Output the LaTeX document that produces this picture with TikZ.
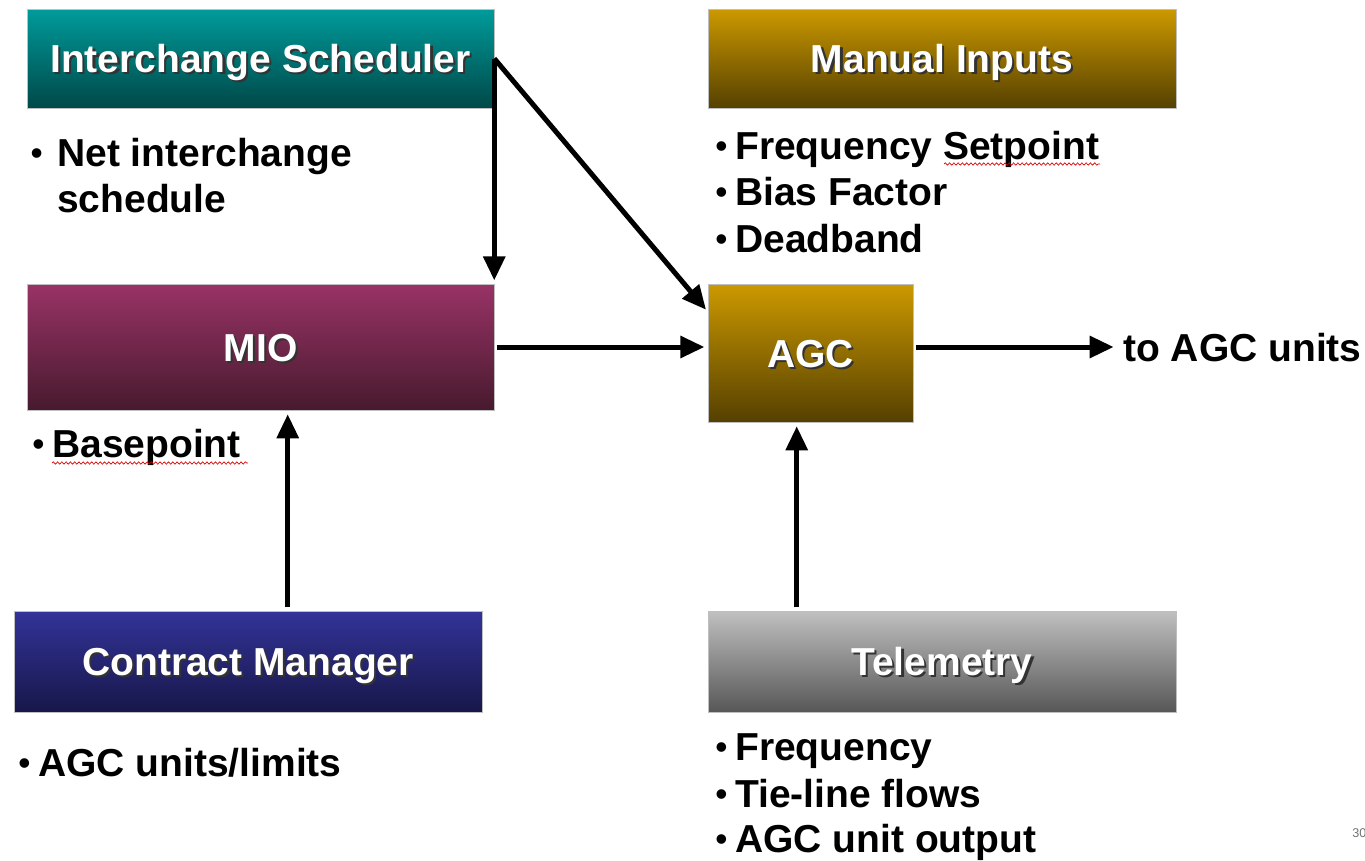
\documentclass[tikz,border=0pt]{standalone}
\usepackage{fontspec}
\setmainfont{Liberation Sans}
\usetikzlibrary{arrows.meta,decorations.pathmorphing}
\newcommand{\shtxt}[1]{\rlap{\kern1.6pt\raisebox{-1.6pt}{\textcolor{black!80}{#1}}}\textcolor{white}{#1}}
\newcommand{\bul}[1]{\llap{\raisebox{1pt}{\fontsize{25}{27}\selectfont\textbullet}\kern#1}}
\definecolor{tealT}{HTML}{009B9B}
\definecolor{tealB}{HTML}{004848}
\definecolor{goldT}{HTML}{CC9900}
\definecolor{goldB}{HTML}{554000}
\definecolor{purpT}{HTML}{993366}
\definecolor{purpB}{HTML}{471A2E}
\definecolor{navyT}{HTML}{333399}
\definecolor{navyB}{HTML}{17174A}
\definecolor{grayT}{HTML}{C0C0C0}
\definecolor{grayB}{HTML}{575757}
\begin{document}
\begin{tikzpicture}[x=0.75pt,y=-0.75pt,
  box/.style={rectangle, inner sep=0pt, draw=white!75!black, line width=0.4pt,
    text height=21pt, text depth=0pt,
    font=\fontsize{29.25}{34}\selectfont\bfseries},
  tealbox/.style={box, top color=tealT, bottom color=tealB},
  goldbox/.style={box, top color=goldT, bottom color=goldB},
  purpbox/.style={box, top color=purpT, bottom color=purpB},
  navybox/.style={box, top color=navyT, bottom color=navyB},
  graybox/.style={box, top color=grayT, bottom color=grayB},
  item/.style={anchor=base west, inner sep=0pt, font=\fontsize{29.25}{34}\selectfont\bfseries},
  conn/.style={line width=3.75pt, -{Triangle[length=18pt,width=16pt]}},
  squig/.style={red!85!black, line width=0.5pt, decorate, decoration={snake,amplitude=0.9pt,segment length=3.2pt}}
]
\clip (0,0) rectangle (1365,861);
\useasboundingbox (0,0) rectangle (1365,861);

% boxes
\node[tealbox, minimum width=467*0.75pt, minimum height=99*0.75pt] (isch) at (260.5,58.5) {\shtxt{Interchange Scheduler}};
\node[goldbox, minimum width=468*0.75pt, minimum height=99*0.75pt] (man) at (942,58.5) {\shtxt{Manual Inputs}};
\node[purpbox, minimum width=467*0.75pt, minimum height=126*0.75pt] (mio) at (260.5,347) {\shtxt{MIO}};
\node[goldbox, minimum width=205*0.75pt, minimum height=138*0.75pt] (agc) at (810.5,353) {\shtxt{AGC}};
\node[navybox, minimum width=468*0.75pt, minimum height=101*0.75pt] (cm) at (248,661.5) {\shtxt{Contract Manager}};
\node[graybox, minimum width=468*0.75pt, minimum height=101*0.75pt] (tel) at (942,661.5) {\shtxt{Telemetry}};

% bullet texts
\node[item] (n1) at (57,166) {\bul{11pt}Net interchange};
\node[item] (n2) at (57,212) {schedule};
\node[item] (m1) at (735,159) {\bul{6pt}Frequency Setpoint};
\node[item] (m2) at (735,205) {\bul{6pt}Bias Factor};
\node[item] (m3) at (735,252) {\bul{6pt}Deadband};
\node[item] (b1) at (52,457) {\bul{6pt}Basepoint};
\node[item] (c1) at (38,776) {\bul{6pt}AGC units/limits};
\node[item] (t1) at (735,760) {\bul{6pt}Frequency};
\node[item] (t2) at (735,807) {\bul{6pt}Tie-line flows};
\node[item] (t3) at (735,852) {\bul{6pt}AGC unit output};
\node[anchor=west, inner sep=0pt, text height=21pt, text depth=0pt,
  font=\fontsize{29.25}{34}\selectfont\bfseries] (out) at (1123,347) {to AGC units};
\node[anchor=west, inner sep=0pt, font=\fontsize{9.5}{10}\selectfont, text=black!55] (pg) at (1352,833) {30};

% spell-check underlines
\draw[squig] (944,164) -- (1100,164);
\draw[squig] (52,463) -- (248,463);

% connectors
\draw[conn, shorten >=2.5pt] (isch.east) -- (isch.east |- mio.north);
\draw[conn, shorten >=2pt] (isch.east) -- ([yshift=-28*0.75pt]agc.north west);
\draw[conn, shorten <=2pt, shorten >=2.5pt] (mio.east) -- (agc.west |- mio.east);
\draw[conn, shorten <=2pt, shorten >=7pt] (agc.east |- mio.east) -- (out.west);
\draw[conn, shorten <=2.5pt, shorten >=3pt] ([xshift=274*0.75pt]cm.north west) -- ([xshift=261*0.75pt]mio.south west);
\draw[conn, shorten <=2.5pt, shorten >=3pt] ([xshift=89*0.75pt]tel.north west) -- ([xshift=89*0.75pt]agc.south west);
\end{tikzpicture}
\end{document}
